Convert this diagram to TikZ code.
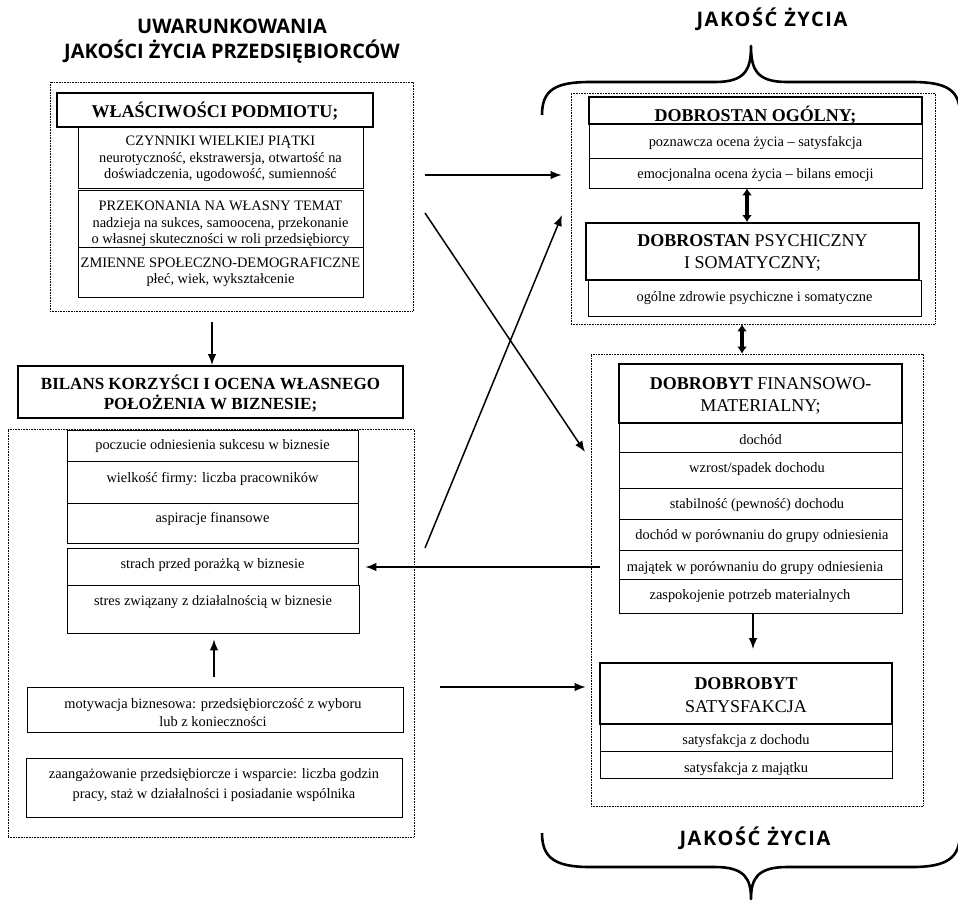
\documentclass[tikz,border=0pt]{standalone}
\usepackage{fontspec}
\setmainfont{Liberation Serif}
\newfontfamily\headsans{Open Sans}
\newfontfamily\headsanssp[LetterSpace=8]{Open Sans}
\usetikzlibrary{arrows.meta}
\begin{document}
\begin{tikzpicture}[x=1pt,y=-1pt,
  frame/.style={draw, line width=0.7pt, dash pattern=on 0.7pt off 0.9pt, inner sep=0pt},
  hbox/.style={draw, line width=1.9pt, inner sep=0pt},
  sbox/.style={draw, line width=0.8pt, inner sep=0pt},
  txt/.style={inner sep=0pt, align=center, text height=14pt, text depth=3pt, font=\fontsize{14.4}{16.5}\selectfont},
  txtm/.style={inner sep=0pt, align=center, font=\fontsize{14.4}{#1}\selectfont},
  htxt/.style={inner sep=0pt, align=center, font=\fontsize{18}{#1}\selectfont},
  ttl/.style={inner sep=0pt, align=center, font=\headsans\bfseries\fontsize{20}{25}\selectfont},
  ttlsp/.style={inner sep=0pt, align=center, font=\headsanssp\bfseries\fontsize{20}{25}\selectfont},
  arr/.style={line width=1.5pt, -{Latex[length=11pt,width=8.5pt]}},
  darr/.style={line width=3.6pt, {Latex[length=7pt,width=10pt]}-{Latex[length=7pt,width=10pt]}},
  brace/.style={line width=2.6pt, line join=round}]
\useasboundingbox (0,0) rectangle (958,900);

% titles
\node[ttl] (t1) at (232,41.5) {UWARUNKOWANIA\\JAKOŚCI ŻYCIA PRZEDSIĘBIORCÓW};
\node[ttlsp] (t2) at (772,19) {JAKOŚĆ ŻYCIA};
\node[ttlsp] (t3) at (755,838) {JAKOŚĆ ŻYCIA};

% braces
\draw[brace] (542,115) .. controls (542,90) and (555,82) .. (590,82) -- (715,82)
  .. controls (745,82) and (751,70) .. (751,46)
  .. controls (751,70) and (757,82) .. (787,82) -- (912,82)
  .. controls (947,82) and (960,90) .. (960,115);
\draw[brace] (542,833) .. controls (542,858) and (555,867) .. (590,867) -- (715,867)
  .. controls (745,867) and (751,879) .. (751,899)
  .. controls (751,879) and (757,867) .. (787,867) -- (912,867)
  .. controls (947,867) and (960,858) .. (960,833);

% ---------- top-left group
\node[frame, minimum width=363pt, minimum height=229pt] (fr1) at (231.5,196.5) {};
\node[sbox, minimum width=285pt, minimum height=61pt] (s1a) at (220.5,157.5) {};
\node[sbox, minimum width=285pt, minimum height=57pt] (s1b) at (220.5,219) {};
\node[sbox, minimum width=285pt, minimum height=50pt] (s1c) at (220.5,272.5) {};
\node[hbox, fill=white, minimum width=316pt, minimum height=34pt] (h1) at (215,110) {};
\node[htxt=22] (h1t) at (215,111.5) {\textbf{WŁAŚCIWOŚCI PODMIOTU;}};
\node[txtm=16.5] (s1at) at (220.5,159) {CZYNNIKI WIELKIEJ PIĄTKI\\neurotyczność, ekstrawersja, otwartość na\\doświadczenia, ugodowość, sumienność};
\node[txtm=16.5] (s1bt) at (220.5,224) {PRZEKONANIA NA WŁASNY TEMAT\\nadzieja na sukces, samoocena, przekonanie\\o własnej skuteczności w roli przedsiębiorcy};
\node[txtm=16.5] (s1ct) at (220.5,272.5) {ZMIENNE SPOŁECZNO-DEMOGRAFICZNE\\płeć, wiek, wykształcenie};

% ---------- BILANS heading
\node[hbox, minimum width=385pt, minimum height=52pt] (h2) at (210.5,392) {};
\node[inner sep=0pt, align=center, font=\fontsize{17}{20}\selectfont\bfseries] (h2t) at (210.5,394) {BILANS KORZYŚCI I OCENA WŁASNEGO\\POŁOŻENIA W BIZNESIE;};

% ---------- lower-left group
\node[frame, minimum width=406pt, minimum height=408pt] (fr2) at (211,633) {};
\node[sbox, minimum width=291pt, minimum height=31pt] (p1) at (212.5,445.5) {};
\node[sbox, minimum width=291pt, minimum height=42pt] (p2) at (212.5,482) {};
\node[sbox, minimum width=291pt, minimum height=40pt] (p3) at (212.5,523) {};
\node[sbox, minimum width=291pt, minimum height=37pt] (p4) at (212.5,566.5) {};
\node[sbox, minimum width=292pt, minimum height=48pt] (p5) at (213,609) {};
\node[txt] (p1t) at (212.5,444) {poczucie odniesienia sukcesu w biznesie};
\node[txt] (p2t) at (212.5,477) {wielkość firmy: liczba pracowników};
\node[txt] (p3t) at (212.5,517) {aspiracje finansowe};
\node[txt] (p4t) at (212.5,563) {strach przed porażką w biznesie};
\node[txt] (p5t) at (213,600) {stres związany z działalnością w biznesie};
\node[sbox, minimum width=376pt, minimum height=45pt] (m1) at (215,709.5) {};
\node[txtm=18] (m1t) at (213,713) {motywacja biznesowa: przedsiębiorczość z wyboru\\lub z konieczności};
\node[sbox, minimum width=376pt, minimum height=59pt] (m2) at (214,787.5) {};
\node[txtm=20] (m2t) at (214,785.5) {zaangażowanie przedsiębiorcze i wsparcie: liczba godzin\\pracy, staż w działalności i posiadanie wspólnika};

% ---------- top-right group
\node[frame, minimum width=364pt, minimum height=231pt] (fr3) at (753,208.5) {};
\node[hbox, minimum width=333pt, minimum height=27pt] (h3) at (755.5,110.5) {};
\node[htxt=22] (h3t) at (755.5,115.5) {\textbf{DOBROSTAN OGÓLNY;}};
\node[sbox, minimum width=333pt, minimum height=34pt] (r1) at (755.5,141) {};
\node[sbox, minimum width=333pt, minimum height=30pt] (r2) at (755.5,173) {};
\node[txt] (r1t) at (755.5,141) {poznawcza ocena życia – satysfakcja};
\node[txt] (r2t) at (755.5,173) {emocjonalna ocena życia – bilans emocji};
\node[hbox, minimum width=333pt, minimum height=57pt] (h4) at (752.5,251.5) {};
\node[htxt=22] (h4t) at (752.5,253) {\textbf{DOBROSTAN} PSYCHICZNY\\I SOMATYCZNY;};
\node[sbox, minimum width=333pt, minimum height=36pt] (r3) at (754.5,298) {};
\node[txt] (r3t) at (754.5,296) {ogólne zdrowie psychiczne i somatyczne};

% ---------- lower-right group
\node[frame, minimum width=332pt, minimum height=452pt] (fr4) at (757,580) {};
\node[hbox, minimum width=283pt, minimum height=59pt] (h5) at (760.5,393.5) {};
\node[htxt=22] (h5t) at (760.5,395.5) {\textbf{DOBROBYT} FINANSOWO-\\MATERIALNY;};
\node[sbox, minimum width=283pt, minimum height=29pt] (q1) at (760.5,437.5) {};
\node[sbox, minimum width=283pt, minimum height=36pt] (q2) at (760.5,470) {};
\node[sbox, minimum width=283pt, minimum height=31pt] (q3) at (760.5,503.5) {};
\node[sbox, minimum width=283pt, minimum height=31pt] (q4) at (760.5,534.5) {};
\node[sbox, minimum width=283pt, minimum height=29pt] (q5) at (760.5,564.5) {};
\node[sbox, minimum width=283pt, minimum height=34pt] (q6) at (760.5,596) {};
\node[txt] (q1t) at (760.5,439) {dochód};
\node[txt] (q2t) at (757,467) {wzrost/spadek dochodu};
\node[txt] (q3t) at (757,503) {stabilność (pewność) dochodu};
\node[txt] (q4t) at (762,534) {dochód w porównaniu do grupy odniesienia};
\node[txt] (q5t) at (755,566) {majątek w porównaniu do grupy odniesienia};
\node[txt] (q6t) at (750,594) {zaspokojenie potrzeb materialnych};
\node[hbox, minimum width=292pt, minimum height=61pt] (h6) at (746,693.5) {};
\node[htxt=23] (h6t) at (746,695) {\textbf{DOBROBYT}\\SATYSFAKCJA};
\node[sbox, minimum width=292pt, minimum height=27pt] (u1) at (746,737.5) {};
\node[sbox, minimum width=292pt, minimum height=27pt] (u2) at (746,764.5) {};
\node[txt] (u1t) at (746,739) {satysfakcja z dochodu};
\node[txt] (u2t) at (746,767) {satysfakcja z majątku};

% ---------- connectors
\coordinate (d1s) at (212,322);
\draw[arr] (d1s) -- (d1s |- h2.north);
\coordinate (d2s) at (214,677);
\draw[arr, shorten >=6pt] (d2s) -- (d2s |- p5.south);
\coordinate (d3s) at (753,613);
\draw[arr, shorten >=13pt] (d3s) -- (d3s |- h6.north);
\coordinate (a1s) at (425,175);
\draw[arr, shorten >=9pt] (a1s) -- (a1s -| fr3.west);
\coordinate (a2s) at (425,213);
\coordinate (a2e) at (585,452);
\draw[arr] (a2s) -- (a2e);
\coordinate (a3s) at (425,548);
\coordinate (a3e) at (562,215);
\draw[arr] (a3s) -- (a3e);
\coordinate (a4s) at (600,567);
\draw[arr, shorten >=7pt] (a4s) -- (a4s -| p4.east);
\coordinate (a5s) at (440,687);
\draw[arr, shorten >=5pt] (a5s) -- (a5s -| fr4.west);
\draw[darr] ([xshift=-8.5pt]r2.south) -- ([xshift=-5.5pt]h4.north);
\draw[darr] ([xshift=-11pt]fr3.south) -- ([xshift=-15pt]fr4.north);
\end{tikzpicture}
\end{document}
